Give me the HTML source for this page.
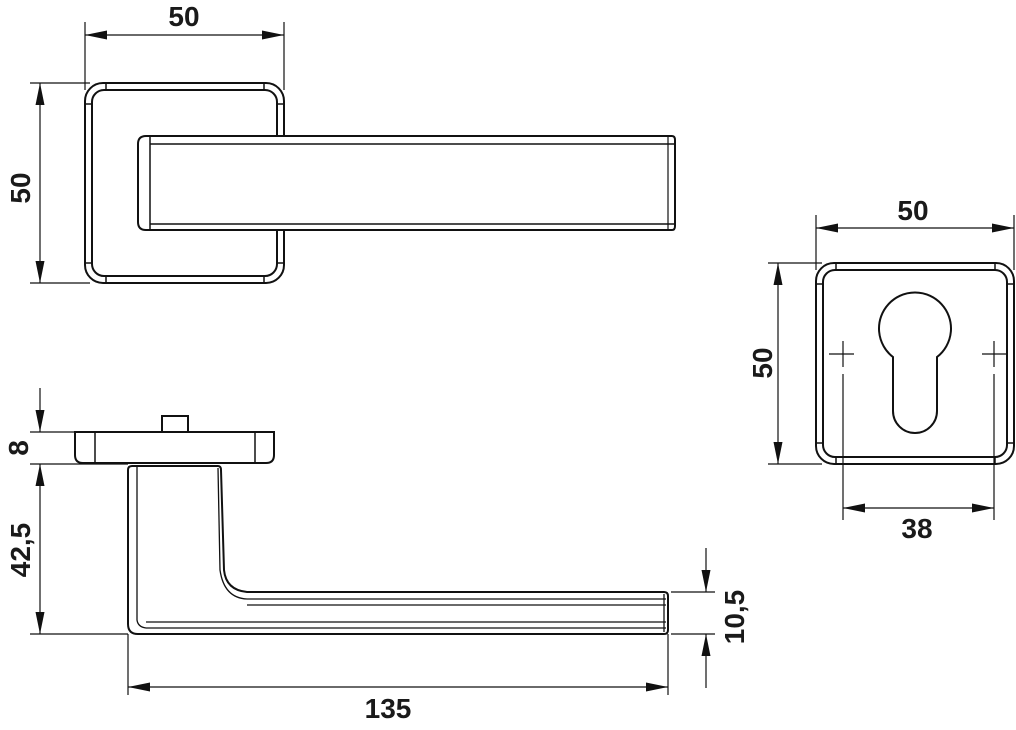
<!DOCTYPE html>
<html><head><meta charset="utf-8"><style>
html,body{margin:0;padding:0;background:#fff}
svg{display:block}
text{font-family:"Liberation Sans",Arial,sans-serif;font-weight:bold;font-size:28px;fill:#1a1a1a}
</style></head><body>
<svg width="1016" height="730" viewBox="0 0 1016 730" xmlns="http://www.w3.org/2000/svg">
<defs>
<marker id="a" viewBox="0 0 22 9" refX="22" refY="4.5" markerWidth="22" markerHeight="9" markerUnits="userSpaceOnUse" orient="auto-start-reverse"><path d="M0,0 L22,4.5 L0,9z" fill="#111"/></marker>
</defs>
<g fill="none" stroke="#111" stroke-width="1.2">
<line x1="85" y1="22" x2="85" y2="90"/><line x1="284" y1="22" x2="284" y2="90"/>
<line x1="85" y1="35" x2="284" y2="35" marker-start="url(#a)" marker-end="url(#a)"/>
<line x1="30" y1="83" x2="90" y2="83"/><line x1="30" y1="283" x2="90" y2="283"/>
<line x1="40" y1="83" x2="40" y2="283" marker-start="url(#a)" marker-end="url(#a)"/>
</g>
<g fill="none" stroke="#111" stroke-width="2">
<rect x="85" y="83" width="199" height="200" rx="18"/>
<rect x="92" y="90" width="185" height="186" rx="12"/>
<path d="M106,83v7M264,83v7M106,276v7M264,276v7M85,104h7M85,263h7M277,104h7M277,263h7" stroke-width="1.5"/>
<path d="M672,136 H146 Q138,136 138,144 V222 Q138,230 146,230 H672 Q675,230 675,226 V140 Q675,136 672,136 Z" fill="#fff"/>
<path d="M150,144 H675 M150,224 H675 M150,136 V230" stroke-width="1.5"/>
<path d="M668,136 V230" stroke-width="1.2"/>
</g>
<g fill="none" stroke="#111" stroke-width="1.2">
<line x1="816" y1="215" x2="816" y2="270"/><line x1="1014" y1="215" x2="1014" y2="270"/>
<line x1="816" y1="228" x2="1014" y2="228" marker-start="url(#a)" marker-end="url(#a)"/>
<line x1="768" y1="263" x2="822" y2="263"/><line x1="768" y1="464" x2="822" y2="464"/>
<line x1="778" y1="263" x2="778" y2="464" marker-start="url(#a)" marker-end="url(#a)"/>
<line x1="843" y1="374" x2="843" y2="520"/><line x1="994" y1="374" x2="994" y2="520"/>
<line x1="843" y1="508" x2="994" y2="508" marker-start="url(#a)" marker-end="url(#a)"/>
<path d="M829,354h25M843,341v26M982,354h25M994,341v26"/>
</g>
<g fill="none" stroke="#111" stroke-width="2">
<rect x="816" y="263" width="198" height="201" rx="18"/>
<rect x="823" y="270" width="184" height="187" rx="12"/>
<path d="M836,263v7M995,263v7M836,457v7M995,457v7M816,284h7M816,443h7M1007,284h7M1007,443h7" stroke-width="1.5"/>
<path d="M893,357 A36,36 0 1 1 937,357 V411 A22,22 0 0 1 893,411 Z"/>
</g>
<g fill="none" stroke="#111" stroke-width="1.2">
<line x1="30" y1="432" x2="75" y2="432"/><line x1="30" y1="464" x2="128" y2="464"/>
<line x1="30" y1="634" x2="128" y2="634"/>
<line x1="40" y1="388" x2="40" y2="432" marker-end="url(#a)"/>
<line x1="40" y1="464" x2="40" y2="634" marker-start="url(#a)" marker-end="url(#a)"/>
<line x1="128" y1="634" x2="128" y2="695"/><line x1="668" y1="634" x2="668" y2="695"/>
<line x1="128" y1="687" x2="668" y2="687" marker-start="url(#a)" marker-end="url(#a)"/>
<line x1="671" y1="592" x2="715" y2="592"/><line x1="671" y1="634" x2="715" y2="634"/>
<line x1="706" y1="548" x2="706" y2="592" marker-end="url(#a)"/>
<line x1="706" y1="688" x2="706" y2="634" marker-end="url(#a)"/>
</g>
<g fill="none" stroke="#111" stroke-width="2">
<rect x="162" y="416" width="26" height="16"/>
<path d="M75,432 H274 V455 Q274,463 266,463 H83 Q75,463 75,455 Z"/>
<path d="M95,432V463M255,432V463" stroke-width="1.5"/>
<path d="M132,466 H218 Q221,466 221,470 L224,570 Q226,590 247,592 H664 Q668,592 668,596 V630 Q668,634 664,634 H138 Q128,634 128,624 V470 Q128,466 132,466 Z"/>
<path d="M137,466 V620 Q138,627 146,628 M146,622H666M146,628H666M218,468 L220,570 Q224,598 247,599 M247,599H666M247,605H666M664,594V632" stroke-width="1.3"/>
</g>
<text x="184" y="26" text-anchor="middle">50</text>
<text transform="translate(30,188) rotate(-90)" text-anchor="middle">50</text>
<text x="913" y="220" text-anchor="middle">50</text>
<text transform="translate(772,363) rotate(-90)" text-anchor="middle">50</text>
<text x="917" y="538" text-anchor="middle">38</text>
<text transform="translate(28,448) rotate(-90)" text-anchor="middle">8</text>
<text transform="translate(30,550) rotate(-90)" text-anchor="middle">42,5</text>
<text transform="translate(744,617) rotate(-90)" text-anchor="middle">10,5</text>
<text x="388" y="718" text-anchor="middle">135</text>
</svg>
</body></html>
